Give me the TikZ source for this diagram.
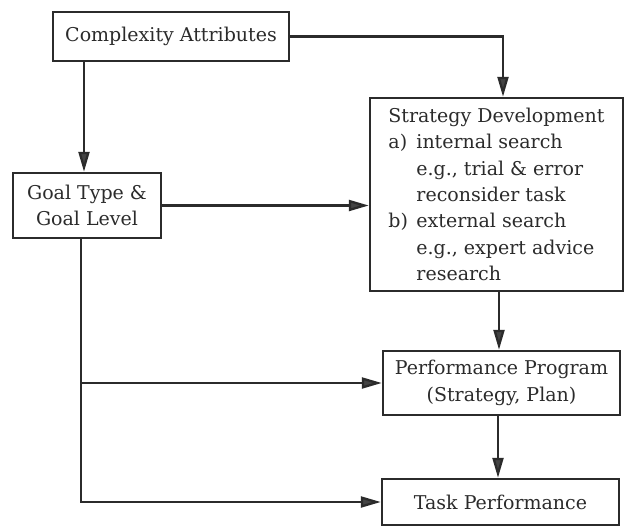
\documentclass[tikz,border=0pt]{standalone}
\usepackage{fontspec}
\setmainfont{DejaVu Serif}
\usetikzlibrary{arrows.meta,calc}
\definecolor{ink}{HTML}{2B2B2B}
\definecolor{tipfill}{HTML}{444444}
\begin{document}
\begin{tikzpicture}[x=1pt,y=-1pt,
  box/.style={draw=ink, line width=2.5pt, fill=white, inner sep=0pt, text=ink,
    font=\fontsize{19}{26.3}\selectfont, align=center},
  conn/.style={draw=ink, line width=2.3pt},
  arr/.style={conn, -{Triangle[length=20pt,width=11pt,fill=tipfill]}}]
\useasboundingbox (0,0) rectangle (626,527);
\fill[white] (0,0) rectangle (626,527);

\node[box, minimum width=236, minimum height=49] (ca) at (171,36.5) {Complexity Attributes};
\node[box, minimum width=148, minimum height=65] (gl) at (87,205.5) {Goal Type \&\\Goal Level};
\node[box, minimum width=253, minimum height=193, align=left] (sd) at (496.5,194.5)
  {Strategy Development\\
   \makebox[28pt][l]{a)}internal search\\
   \hspace*{28pt}e.g., trial \& error\\
   \hspace*{28pt}reconsider task\\
   \makebox[28pt][l]{b)}external search\\
   \hspace*{28pt}e.g., expert advice\\
   \hspace*{28pt}research};
\node[box, minimum width=237, minimum height=64] (pp) at (501.5,383) {Performance Program\\(Strategy, Plan)};
\node[box, minimum width=237, minimum height=46] (tp) at (500.5,502) {Task Performance};

\draw[arr] (ca.east) -| ([xshift=6.5pt]sd.north);
\draw[arr] ([xshift=-3pt]gl.north |- ca.south) -- ([xshift=-3pt]gl.north);
\draw[arr] (gl.east) -- (gl.east -| sd.west);
\draw[arr] ([xshift=-2.5pt]pp.north |- sd.south) -- ([xshift=-2.5pt]pp.north);
\draw[arr] ([xshift=-2.5pt]tp.north |- pp.south) -- ([xshift=-2.5pt]tp.north);
\draw[arr] ([xshift=-6pt]gl.south) |- (tp.west);
\draw[arr] ([xshift=-6pt]gl.south |- pp.west) -- (pp.west);
\end{tikzpicture}
\end{document}
